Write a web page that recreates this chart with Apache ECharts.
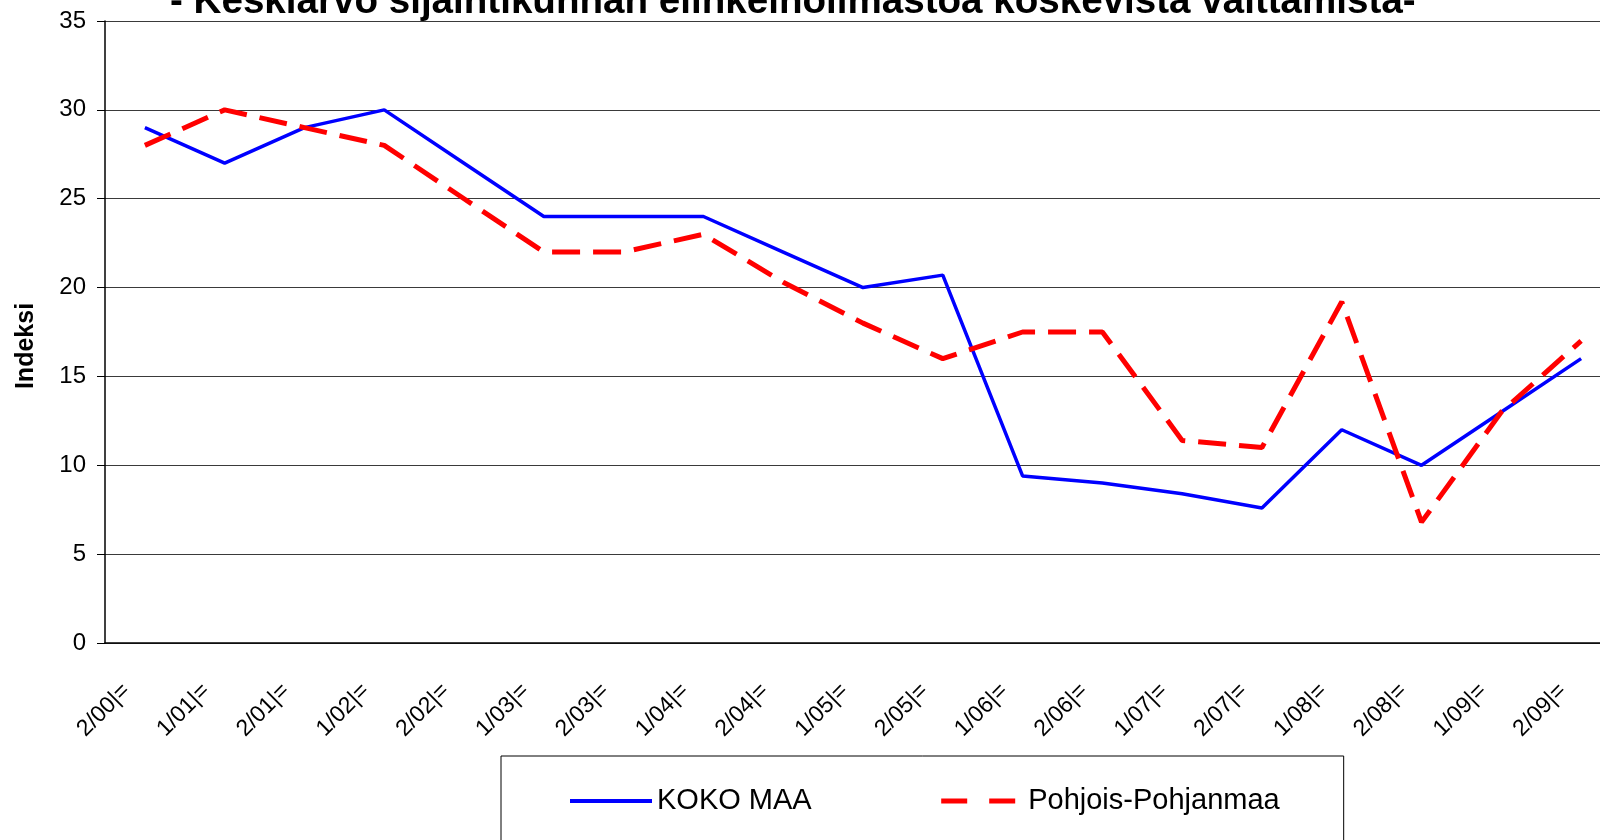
<!DOCTYPE html>
<html>
<head>
<meta charset="utf-8">
<script src="https://cdn.jsdelivr.net/npm/echarts@6/dist/echarts.min.js"></script>
<style>
html,body{margin:0;padding:0;background:#fff;}
#c{width:1600px;height:840px;}
</style>
</head>
<body>
<div id="c"></div>
<script>
const titleText = '- Keskiarvo sijaintikunnan elinkeinoilmastoa koskevista väittämistä-';
const yAxisName = 'Indeksi';
const categories = ['2/00|=', '1/01|=', '2/01|=', '1/02|=', '2/02|=', '1/03|=', '2/03|=', '1/04|=', '2/04|=', '1/05|=', '2/05|=', '1/06|=', '2/06|=', '1/07|=', '2/07|=', '1/08|=', '2/08|=', '1/09|=', '2/09|='];
const seriesNames = ['KOKO MAA', 'Pohjois-Pohjanmaa'];
const kokoMaa = [29, 27, 29, 30, 27, 24, 24, 24, 22, 20, 20.7, 9.4, 9.0, 8.4, 7.6, 12, 10, 13, 16];
const pohjoisPohjanmaa = [28, 30, 29, 28, 25, 22, 22, 23, 20.3, 18, 16, 17.5, 17.5, 11.4, 11.0, 19.2, 6.8, 13, 17];
const yMin = 0, yMax = 35, yStep = 5;

const FONT = '"Liberation Sans", Arial, sans-serif';
const chart = echarts.init(document.getElementById('c'), null, {renderer: 'canvas'});
chart.setOption({
  backgroundColor: '#ffffff',
  animation: false,
  title: {
    text: titleText,
    left: 170,
    top: -17,
    padding: 0,
    textStyle: {fontFamily: FONT, fontSize: 38.6, fontWeight: 'bold', color: '#000', lineHeight: 39}
  },
  grid: {left: 105, top: 21, width: 1516, height: 622, containLabel: false, outerBoundsMode: 'none'},
  legend: {
    left: 501,
    top: 756,
    orient: 'horizontal',
    padding: [30, 64, 60, 67],
    borderColor: '#000',
    borderWidth: 1,
    itemWidth: 82,
    itemHeight: 14,
    itemGap: 127,
    textStyle: {fontFamily: FONT, fontSize: 29, color: '#000', lineHeight: 30},
    data: [
      {name: seriesNames[0], itemStyle: {opacity: 0}, lineStyle: {color: '#0000ff', width: 4, type: 'solid'}},
      {name: seriesNames[1], itemStyle: {opacity: 0}, lineStyle: {color: '#ff0000', width: 5, type: [26, 22]}}
    ]
  },
  xAxis: {
    type: 'category',
    data: categories,
    boundaryGap: true,
    axisLine: {lineStyle: {color: '#000', width: 1.5}},
    axisTick: {show: false},
    axisLabel: {
      rotate: 45,
      interval: 0,
      margin: 26,
      padding: [0, 26, 0, 0],
      fontFamily: FONT,
      fontSize: 23,
      color: '#000'
    },
    splitLine: {show: false}
  },
  yAxis: {
    type: 'value',
    min: yMin,
    max: yMax,
    interval: yStep,
    name: yAxisName,
    nameLocation: 'middle',
    nameGap: 66,
    nameRotate: 90,
    nameTextStyle: {fontFamily: FONT, fontSize: 25, fontWeight: 'bold', color: '#000', padding: [0, 28, 0, 0]},
    axisLine: {show: true, lineStyle: {color: '#000', width: 1.5}},
    axisTick: {show: true, inside: false, length: 8, lineStyle: {color: '#000'}},
    axisLabel: {margin: 19, fontFamily: FONT, fontSize: 24, color: '#000'},
    splitLine: {show: true, lineStyle: {color: '#3a3a3a', width: 1.2}}
  },
  series: [
    {
      name: seriesNames[0],
      type: 'line',
      data: kokoMaa,
      symbol: 'none',
      lineStyle: {color: '#0000ff', width: 3.5},
      itemStyle: {color: '#0000ff'},
      z: 2
    },
    {
      name: seriesNames[1],
      type: 'line',
      data: pohjoisPohjanmaa,
      symbol: 'none',
      lineStyle: {color: '#ff0000', width: 5, type: [28, 13]},
      itemStyle: {color: '#ff0000'},
      z: 3
    }
  ]
});
</script>
</body>
</html>
